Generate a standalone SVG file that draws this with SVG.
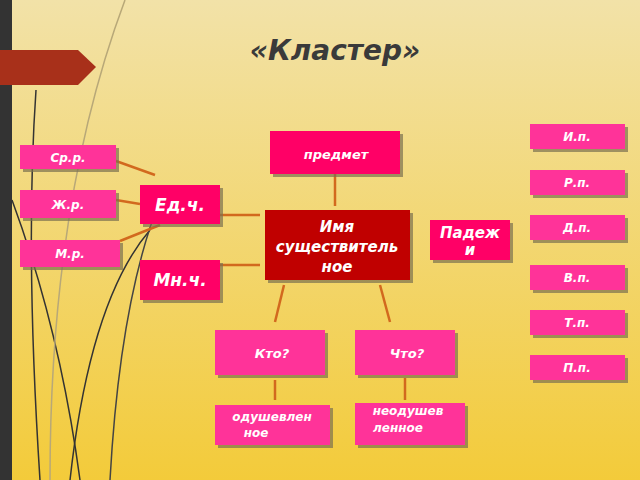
<svg xmlns="http://www.w3.org/2000/svg" width="640" height="480" viewBox="0 0 640 480">
<defs>
<linearGradient id="bg" x1="0" y1="0" x2="0" y2="1"><stop offset="0" stop-color="#f2e2a8"/><stop offset="1" stop-color="#f3cb3a"/></linearGradient>
<style>
.b{fill:#ff0066}.p{fill:#ff3399}.d{fill:#c00000}
.sh{fill:#7a7050;opacity:.7}
text{font-family:"DejaVu Sans",sans-serif;font-style:italic;font-weight:bold;fill:#fff;text-anchor:middle}
.c line{stroke:#d2691e;stroke-width:2.5}
</style>
</defs>
<rect width="640" height="480" fill="url(#bg)"/>
<g fill="none" stroke-width="1.5">
<path d="M36 90 Q25 250 40 480" stroke="#333"/>
<path d="M12 200 Q60 330 80 480" stroke="#333"/>
<path d="M150 230 Q90 300 70 480" stroke="#333"/>
<path d="M125 0 Q50 200 50 480" stroke="#b8a878"/>
<path d="M160 200 Q120 300 110 480" stroke="#444"/>
</g>
<rect x="0" y="0" width="12" height="480" fill="#333"/>
<path d="M0 50 H78 L96 67 L78 85 H0 Z" fill="#a8301a"/>
<text x="335" y="60" font-size="28" fill="#333" style="fill:#3a3a3a">«Кластер»</text>
<g class="c">
<line x1="116" y1="161" x2="155" y2="175"/><line x1="116" y1="200" x2="140" y2="204"/>
<line x1="120" y1="241" x2="160" y2="225"/><line x1="220" y1="215" x2="260" y2="215"/>
<line x1="220" y1="265" x2="260" y2="265"/><line x1="335" y1="174" x2="335" y2="206"/>
<line x1="284" y1="285" x2="275" y2="322"/><line x1="380" y1="285" x2="390" y2="322"/>
<line x1="275" y1="380" x2="275" y2="400"/><line x1="405" y1="378" x2="405" y2="400"/>
</g>
<g id="predmet"><rect class="sh" x="273" y="134" width="130" height="43"/><rect class="b" x="270" y="131" width="130" height="43"/><text x="336" y="159" font-size="13">предмет</text></g>
<g id="imya"><rect class="sh" x="268" y="213" width="145" height="70"/><rect class="d" x="265" y="210" width="145" height="70"/><text font-size="15"><tspan x="337" y="232">Имя</tspan><tspan x="337" y="252">существитель</tspan><tspan x="337" y="272">ное</tspan></text></g>
<g id="ed"><rect class="sh" x="143" y="188" width="80" height="39"/><rect class="b" x="140" y="185" width="80" height="39"/><text x="180" y="211" font-size="17">Ед.ч.</text></g>
<g id="mn"><rect class="sh" x="143" y="263" width="80" height="40"/><rect class="b" x="140" y="260" width="80" height="40"/><text x="180" y="286" font-size="17">Мн.ч.</text></g>
<g id="sr"><rect class="sh" x="23" y="148" width="96" height="24"/><rect class="p" x="20" y="145" width="96" height="24"/><text x="68" y="162" font-size="12">Ср.р.</text></g>
<g id="zh"><rect class="sh" x="23" y="193" width="96" height="28"/><rect class="p" x="20" y="190" width="96" height="28"/><text x="68" y="209" font-size="12">Ж.р.</text></g>
<g id="m"><rect class="sh" x="23" y="243" width="100" height="27"/><rect class="p" x="20" y="240" width="100" height="27"/><text x="70" y="258" font-size="12">М.р.</text></g>
<g id="padezhi"><rect class="sh" x="433" y="223" width="80" height="40"/><rect class="b" x="430" y="220" width="80" height="40"/><text font-size="15"><tspan x="470" y="238">Падеж</tspan><tspan x="470" y="255">и</tspan></text></g>
<g id="ip"><rect class="sh" x="533" y="127" width="95" height="25"/><rect class="p" x="530" y="124" width="95" height="25"/><text x="577" y="141" font-size="12">И.п.</text></g>
<g id="rp"><rect class="sh" x="533" y="173" width="95" height="25"/><rect class="p" x="530" y="170" width="95" height="25"/><text x="577" y="187" font-size="12">Р.п.</text></g>
<g id="dp"><rect class="sh" x="533" y="218" width="95" height="25"/><rect class="p" x="530" y="215" width="95" height="25"/><text x="577" y="232" font-size="12">Д.п.</text></g>
<g id="vp"><rect class="sh" x="533" y="268" width="95" height="25"/><rect class="p" x="530" y="265" width="95" height="25"/><text x="577" y="282" font-size="12">В.п.</text></g>
<g id="tp"><rect class="sh" x="533" y="313" width="95" height="25"/><rect class="p" x="530" y="310" width="95" height="25"/><text x="577" y="327" font-size="12">Т.п.</text></g>
<g id="pp"><rect class="sh" x="533" y="358" width="95" height="25"/><rect class="p" x="530" y="355" width="95" height="25"/><text x="577" y="372" font-size="12">П.п.</text></g>
<g id="kto"><rect class="sh" x="218" y="333" width="110" height="45"/><rect class="p" x="215" y="330" width="110" height="45"/><text x="272" y="358" font-size="13">Кто?</text></g>
<g id="chto"><rect class="sh" x="358" y="333" width="100" height="45"/><rect class="p" x="355" y="330" width="100" height="45"/><text x="407" y="358" font-size="13">Что?</text></g>
<g id="odush"><rect class="sh" x="218" y="408" width="115" height="40"/><rect class="p" x="215" y="405" width="115" height="40"/><text font-size="12"><tspan x="272" y="421">одушевлен</tspan><tspan x="256" y="437">ное</tspan></text></g>
<g id="neodush"><rect class="sh" x="358" y="406" width="110" height="42"/><rect class="p" x="355" y="403" width="110" height="42"/><text font-size="12"><tspan x="408" y="415">неодушев</tspan><tspan x="398" y="432">ленное</tspan></text></g>
</svg>
